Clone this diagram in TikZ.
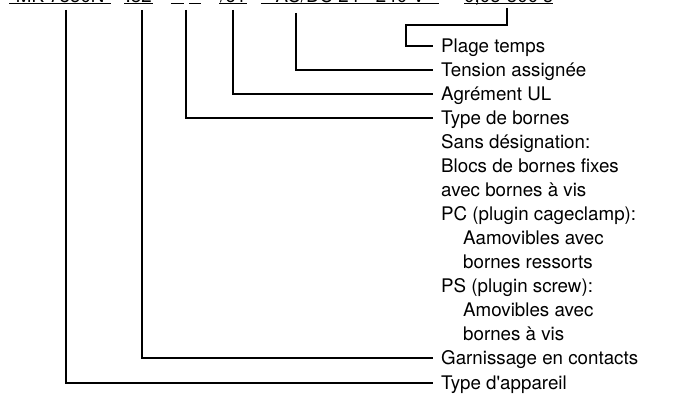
\documentclass[tikz,border=0pt]{standalone}
\usepackage{fontspec}
\setmainfont{TeX Gyre Heros}
\usetikzlibrary{positioning}
\newcommand{\labelfont}{\fontsize{18.75}{24}\selectfont}
\tikzset{
  codepart/.style={anchor=south west, inner xsep=0pt, inner ysep=1pt,
    text depth=0pt, font=\labelfont},
  legend/.style={anchor=west, inner xsep=8pt, inner ysep=0pt,
    text height=13.5pt, text depth=0pt, font=\labelfont},
  underline/.style={line width=1pt},
  leader/.style={line width=1.1pt}
}

\begin{document}
\begin{tikzpicture}[x=1pt,y=-1pt]
  \useasboundingbox (0,0) rectangle (678,403);
  \clip (0,0) rectangle (678,403);

  % order code, cut at the top edge
  \node[codepart, minimum width=102pt] (code1) at (9,3.5) {MK 7850N};
  \node[codepart, minimum width=29pt] (code2) at (124,3.5) {.82};
  \node[codepart, minimum width=13pt] (code3a) at (171,3.5) {};
  \node[codepart, minimum width=12pt] (code3b) at (189,3.5) {};
  \node[codepart, minimum width=28pt] (code4) at (219,3.5) {/61};
  \node[codepart, minimum width=178pt] (code5) at (261,3.5) {AC/DC 24 - 240 V};
  \node[codepart, minimum width=86pt] (code6) at (464,3.5) {0,05-300 s};
  \foreach \part in {code1,code2,code3a,code3b,code4,code5,code6}
    \draw[underline] (\part.south west) -- (\part.south east);

  % legend
  \node[legend] (plage) at (433,46) {Plage temps};
  \node[legend] (tension) at (433,70) {Tension assignée};
  \node[legend] (agrement) at (433,94) {Agrément UL};
  \node[legend] (bornes) at (433,118) {Type de bornes};
  \node[legend] (sansdes) at (433,142) {Sans désignation:};
  \node[legend] (blocs) at (433,166) {Blocs de bornes fixes};
  \node[legend] (avecvis) at (433,190) {avec bornes à vis};
  \node[legend] (pc) at (433,214) {PC (plugin cageclamp):};
  \node[legend] (aamov) at (455,238) {Aamovibles avec};
  \node[legend] (ressorts) at (455,262) {bornes ressorts};
  \node[legend] (ps) at (433,286) {PS (plugin screw):};
  \node[legend] (amov) at (455,310) {Amovibles avec};
  \node[legend] (bornesvis) at (455,334) {bornes à vis};
  \node[legend] (garnissage) at (433,358) {Garnissage en contacts};
  \node[legend] (appareil) at (433,383) {Type d\textquotesingle appareil};

  % leaders
  \coordinate (v1) at (66,10);
  \coordinate (v2) at (142,10);
  \coordinate (v3) at (186,10);
  \coordinate (v4) at (233,10);
  \coordinate (v5) at (296,13);
  \coordinate (v6) at (507,8);
  \coordinate (bend) at (406,25);
  \draw[leader] (v6) |- (bend) |- (plage.west);
  \draw[leader] (v5) |- (tension.west);
  \draw[leader] (v4) |- (agrement.west);
  \draw[leader] (v3) |- (bornes.west);
  \draw[leader] (v2) |- (garnissage.west);
  \draw[leader] (v1) |- (appareil.west);
\end{tikzpicture}
\end{document}
